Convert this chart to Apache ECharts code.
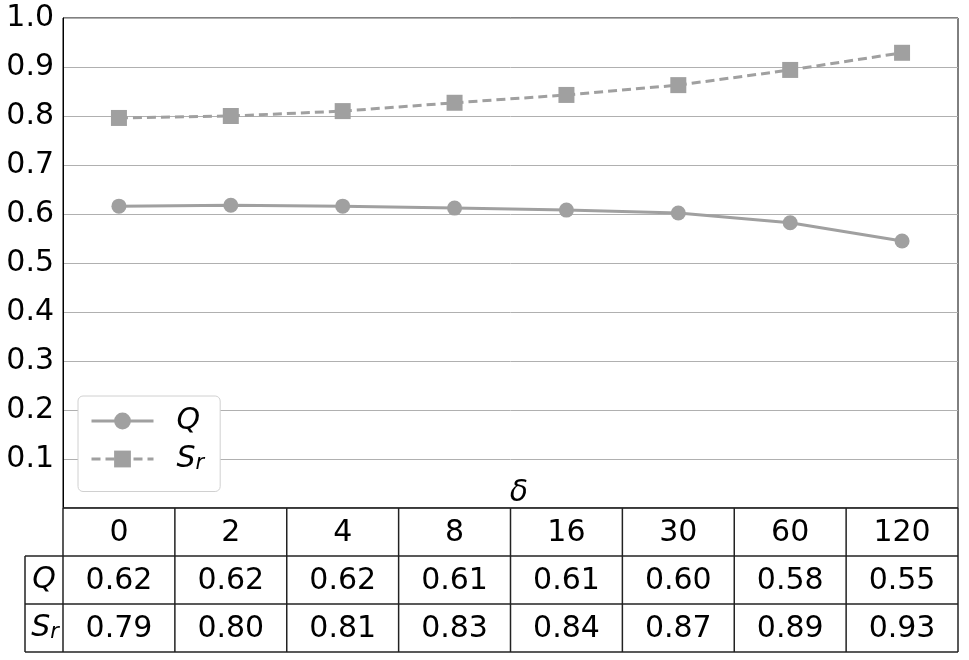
<!DOCTYPE html>
<html><head><meta charset="utf-8">
<script src="https://cdn.jsdelivr.net/npm/echarts@6/dist/echarts.min.js"></script>
<style>html,body{margin:0;padding:0;background:#fff}#c{width:969px;height:660px}</style>
</head><body><div id="c"></div>
<script>
const categories = ['0','2','4','8','16','30','60','120'];
const qValues  = [0.616, 0.618, 0.616, 0.612, 0.608, 0.602, 0.582, 0.545];
const srValues = [0.796, 0.800, 0.810, 0.827, 0.843, 0.863, 0.894, 0.929];
const qTable  = ['0.62','0.62','0.62','0.61','0.61','0.60','0.58','0.55'];
const srTable = ['0.79','0.80','0.81','0.83','0.84','0.87','0.89','0.93'];

const FONT = 'DejaVu Sans';
const GREY = '#a0a0a0';
const FS = 30;
const chart = echarts.init(document.getElementById('c'), null, {renderer:'canvas'});
const rich = {
  i:{fontFamily:FONT, fontStyle:'italic', fontSize:FS, color:'#000', lineHeight:31},
  sub:{fontFamily:FONT, fontStyle:'italic', fontSize:21, color:'#000', verticalAlign:'bottom', lineHeight:17}
};
chart.setOption({
  animation:false,
  grid:{left:63, right:11, top:18, bottom:152, show:true, borderColor:'#000', borderWidth:1},
  legend:{
    left:78, top:396, orient:'vertical', padding:[10,16,17,12], itemGap:8,
    itemWidth:62, itemHeight:21,
    backgroundColor:'#fff', borderColor:'#d0d0d0', borderWidth:1, borderRadius:5,
    data:['Q','Sr'],
    lineStyle:{width:3},
    formatter: n => n==='Q' ? '{i|Q}' : '{i|S}{sub|r}',
    textStyle:{rich:rich, padding:[0,0,0,18]}
  },
  xAxis:{type:'category', data:categories, boundaryGap:true,
    axisLine:{show:false}, axisTick:{show:false}, axisLabel:{show:false}, splitLine:{show:false}},
  yAxis:{type:'value', min:0, max:1, interval:0.1,
    axisLine:{show:true, lineStyle:{color:'#000', width:1}},
    axisTick:{show:false},
    splitLine:{show:true, lineStyle:{color:'#b0b0b0', width:1}},
    axisLabel:{fontFamily:FONT, fontSize:FS, color:'#000', margin:9,
      formatter: v => v===0 ? '' : v.toFixed(1)}},
  series:[
    {name:'Q', type:'line', data:qValues, symbol:'circle', symbolSize:15,
      lineStyle:{color:GREY, width:3}, itemStyle:{color:GREY}},
    {name:'Sr', type:'line', data:srValues, symbol:'rect', symbolSize:16,
      lineStyle:{color:GREY, width:3, type:[9,5]}, itemStyle:{color:GREY}}
  ]
});

// Table under the plot, positioned from the category axis
const centers = categories.map((c,i)=>chart.convertToPixel({xAxisIndex:0}, i));
const band = centers[1]-centers[0];
const tLeft = centers[0]-band/2, tRight = centers[centers.length-1]+band/2;
const tTop = chart.convertToPixel({yAxisIndex:0}, 0);
const rowH = 48;
const labLeft = 25;
const lc = '#222', lw = 1.5;
const g = [];
const line = (x1,y1,x2,y2)=>g.push({type:'line', shape:{x1,y1,x2,y2}, style:{stroke:lc, lineWidth:lw}, z:100});
line(tLeft, tTop, tRight, tTop);
line(labLeft, tTop+rowH, tRight, tTop+rowH);
line(labLeft, tTop+2*rowH, tRight, tTop+2*rowH);
line(labLeft, tTop+3*rowH, tRight, tTop+3*rowH);
for (let k=0;k<=categories.length;k++){ const x=tLeft+k*band; line(x, tTop, x, tTop+3*rowH); }
line(labLeft, tTop+rowH, labLeft, tTop+3*rowH);
const txt = (x,y,t,extra)=>g.push({type:'text', x, y, z:101, style:Object.assign({text:t, fontFamily:FONT, fontSize:FS, fill:'#000', align:'center', verticalAlign:'middle'}, extra||{})});
categories.forEach((c,i)=>{
  txt(centers[i], tTop+rowH/2+1, c);
  txt(centers[i], tTop+rowH*1.5+1, qTable[i]);
  txt(centers[i], tTop+rowH*2.5+1, srTable[i]);
});
txt((labLeft+tLeft)/2, tTop+rowH*1.5, '{i|Q}', {rich:rich});
txt((labLeft+tLeft)/2+1, tTop+rowH*2.5, '{i|S}{sub|r}', {rich:rich});
txt(519, tTop-15, 'δ', {fontStyle:'italic', fontSize:FS});
chart.setOption({graphic:g});
</script></body></html>
